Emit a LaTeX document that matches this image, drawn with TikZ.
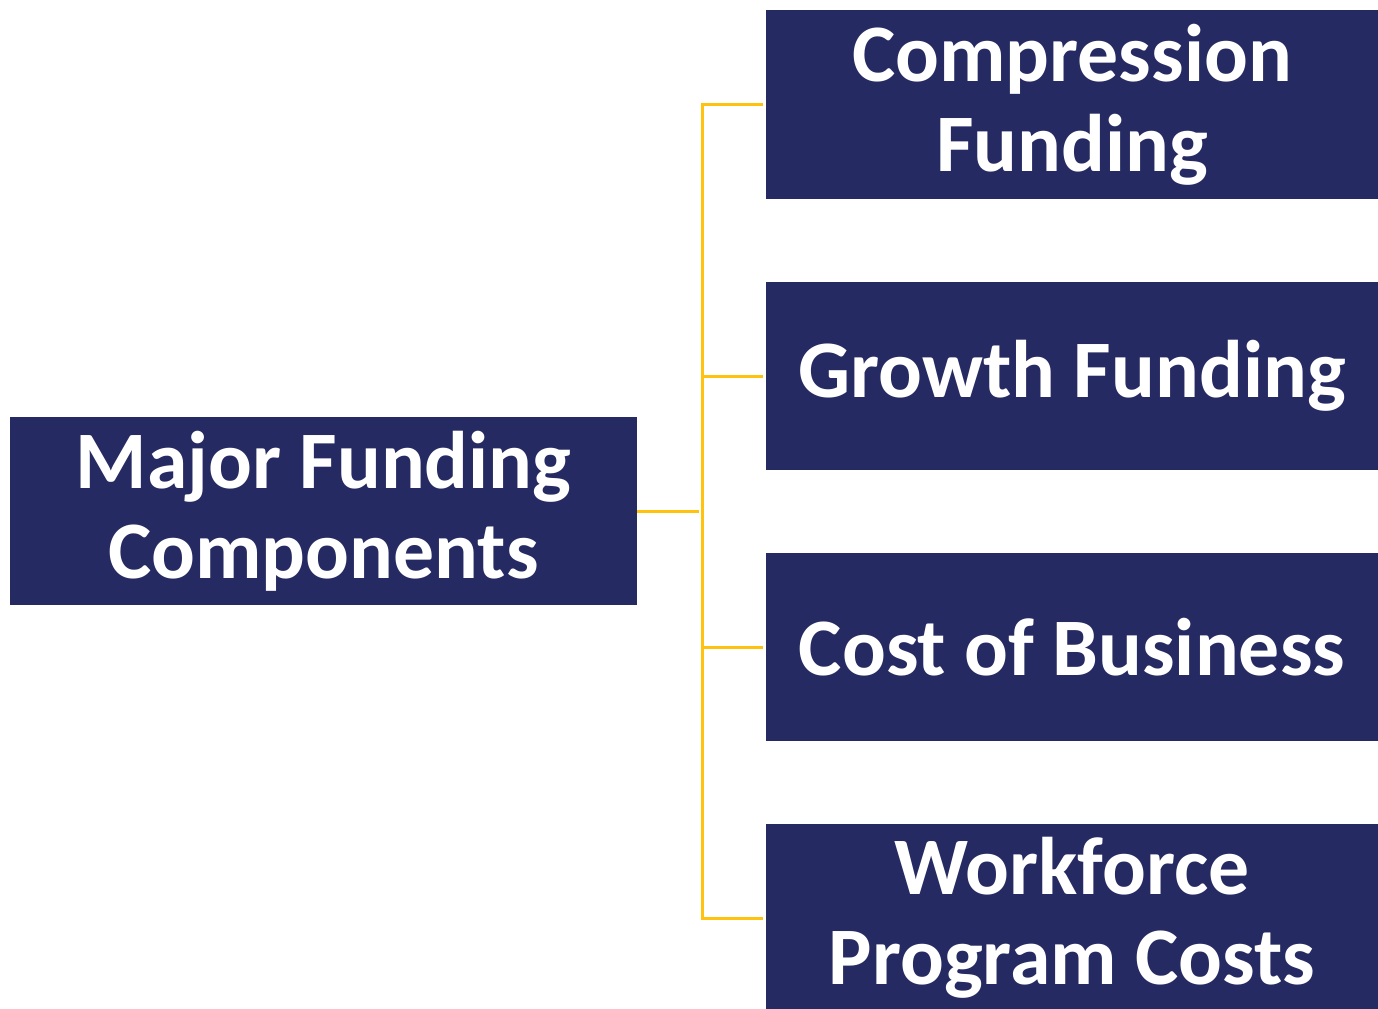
\documentclass[tikz,border=0pt]{standalone}
\usepackage{fontspec}
\setmainfont{Carlito}
\usetikzlibrary{positioning}
\definecolor{navy}{HTML}{262A62}
\definecolor{gold}{HTML}{FFC20E}
\begin{document}
\begin{tikzpicture}[x=0.02cm,y=-0.02cm]
\tikzstyle{box}=[rectangle, fill=navy, text=white, inner sep=0pt, align=center, font=\fontsize{46.5}{51}\selectfont\bfseries]
\tikzstyle{main}=[box, minimum width=12.54cm, minimum height=3.76cm]
\tikzstyle{part}=[box, minimum width=12.24cm, minimum height=3.78cm]
\tikzstyle{connect}=[draw=gold, line width=1.7pt, shorten >=1.5pt]
\useasboundingbox (0,0) rectangle (1378,1008);

\node[main] (major) at (323.5,511) {Major Funding\\Components};
\node[part] (comp) at (1072,104.5) {Compression\\Funding};
\node[part] (growth) at (1072,376) {Growth Funding};
\node[part] (cost) at (1072,647) {Cost of Business};
\node[part] (work) at (1072,918) {Workforce\\Program Costs};

\coordinate (fork) at (702,511);

\draw[connect] (major.east) -- (fork);
\draw[connect] (fork) |- (comp.west);
\draw[connect] (fork) |- (growth.west);
\draw[connect] (fork) |- (cost.west);
\draw[connect] (fork) |- (work.west);

\end{tikzpicture}
\end{document}
